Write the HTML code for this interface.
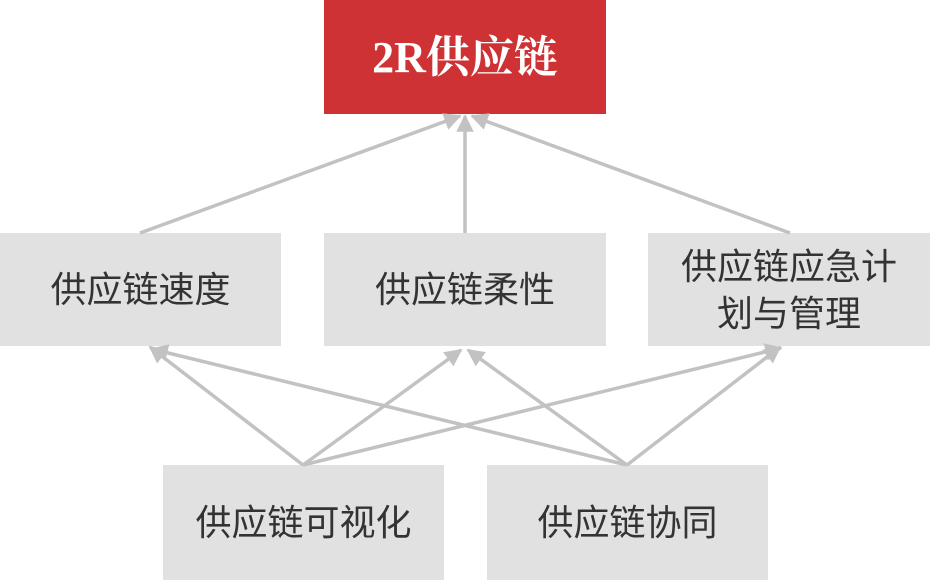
<!DOCTYPE html>
<html><head><meta charset="utf-8"><style>
body{margin:0;width:930px;height:580px;background:#fff;position:relative;overflow:hidden;font-family:"Liberation Sans","Noto Sans CJK SC",sans-serif}
.b{position:absolute;background:#e1e1e1;color:#333;font-size:36px;display:flex;align-items:center;justify-content:center;text-align:center;line-height:47px}
.r{background:#cf3234;color:#fff;font-weight:bold;font-family:"Liberation Serif","Noto Serif CJK SC",serif;font-size:44px}
svg{position:absolute;left:0;top:0}
</style></head><body>
<div class="b r" style="left:324px;top:0;width:282px;height:114px">2R供应链</div>
<div class="b" style="left:0;top:233px;width:281px;height:113px">供应链速度</div>
<div class="b" style="left:324px;top:233px;width:282px;height:113px">供应链柔性</div>
<div class="b" style="left:648px;top:233px;width:282px;height:113px">供应链应急计<br>划与管理</div>
<div class="b" style="left:163px;top:465px;width:281px;height:115px">供应链可视化</div>
<div class="b" style="left:487px;top:465px;width:281px;height:115px">供应链协同</div>
<svg width="930" height="580">
<defs><marker id="a" markerWidth="5" markerHeight="5" refX="4.5" refY="2.5" orient="auto" markerUnits="strokeWidth"><path d="M0,0L5,2.5L0,5z" fill="#c2c2c2"/></marker></defs>
<g stroke="#c2c2c2" stroke-width="3.5" fill="none" marker-end="url(#a)">
<line x1="140" y1="233" x2="460" y2="116"/>
<line x1="465" y1="233" x2="465" y2="116"/>
<line x1="790" y1="233" x2="472" y2="116"/>
<line x1="303" y1="465" x2="150" y2="347"/>
<line x1="303" y1="465" x2="461" y2="350"/>
<line x1="303" y1="465" x2="781" y2="348"/>
<line x1="627" y1="465" x2="152" y2="349"/>
<line x1="627" y1="465" x2="468" y2="350"/>
<line x1="627" y1="465" x2="780" y2="347"/>
</g></svg>
</body></html>
